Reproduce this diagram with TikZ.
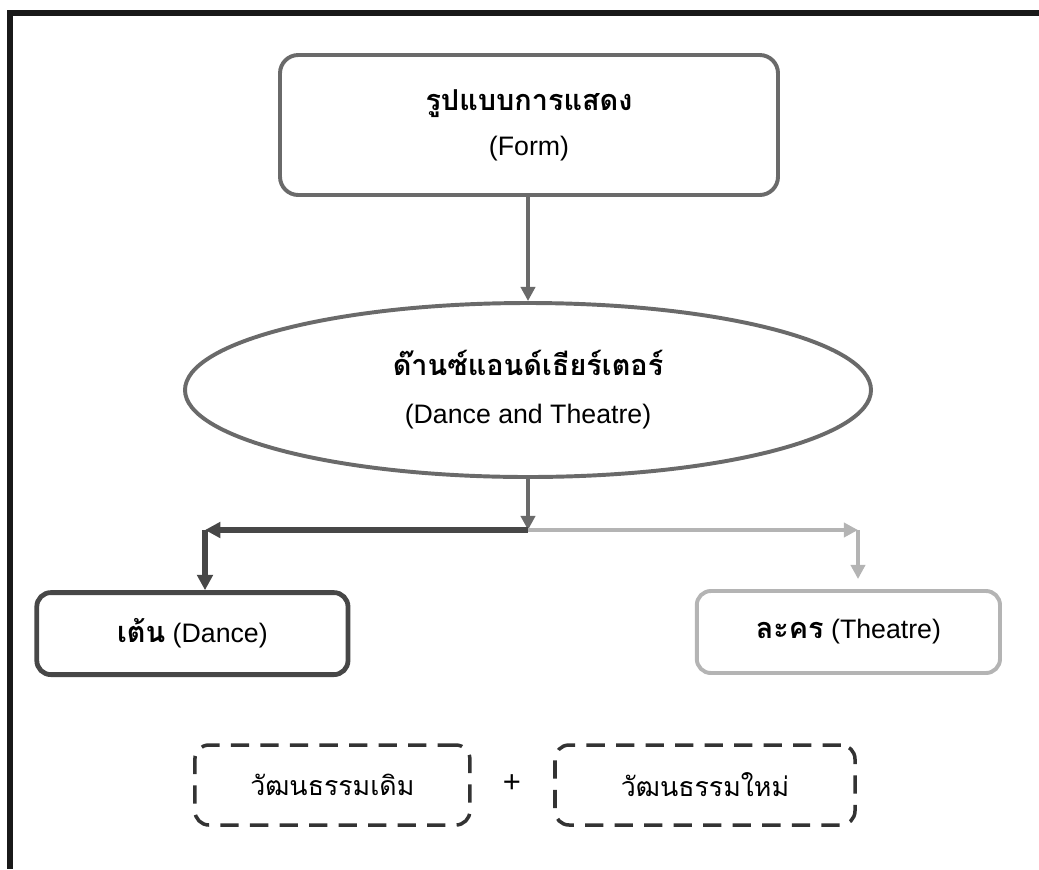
\documentclass[tikz,border=0pt]{standalone}
\usepackage{fontspec}
\setmainfont{Liberation Sans}
\newfontfamily\thaifont[Script=Thai]{Loma}
\usetikzlibrary{positioning, arrows.meta, shapes.geometric}
\definecolor{formgray}{HTML}{6A6A6A}
\definecolor{dancegray}{HTML}{474747}
\definecolor{theatregray}{HTML}{B4B4B4}
\newcommand{\thaibig}{\thaifont\bfseries\fontsize{20.5}{24}\selectfont}

\begin{document}
\begin{tikzpicture}
        [
            formbox/.style = {draw=formgray, line width=2.8pt, rounded corners=13pt, minimum width=12.45cm, minimum height=3.5cm, align=center},
            bigoval/.style = {ellipse, draw=formgray, line width=2.8pt, minimum width=17.15cm, minimum height=4.35cm, inner sep=0pt, align=center},
            leafbox/.style = {line width=2.8pt, rounded corners=10pt, minimum height=2.05cm},
            dashbox/.style = {draw=black!80, line width=2.5pt, dash pattern=on 13pt off 8pt, rounded corners=10pt, minimum height=2cm},
            darkarrow/.style = {-{Triangle[length=11pt, width=11pt]}, dancegray, line width=3.8pt},
            lightarrow/.style = {-{Triangle[length=10pt, width=10pt]}, theatregray, line width=2.8pt},
            every node/.style = {font=\fontsize{19}{23}\selectfont}
        ]%
        \useasboundingbox (0,0) rectangle (25.975,-21.725);
        % frame
        \coordinate (frameR) at (25.975,-0.33);
        \coordinate (frameTL) at (0.25,-0.33);
        \coordinate (frameBL) at (0.25,-21.725);
        \draw[line width=4.5pt, black!90] (frameR) -- (frameTL) -- (frameBL);
        \node[formbox] (form) at (13.225,-3.125) {{\thaibig รูปแบบการแสดง}\\[9pt] (Form)};
        \node[bigoval] (dt) at (13.2,-9.75) {{\thaibig ด๊านซ์แอนด์เธียร์เตอร์}\\[11pt] (Dance and Theatre)};
        \draw[lightarrow, formgray] (dt.north |- form.south) -- (dt.north);
        \node[leafbox, draw=dancegray, line width=3.4pt, minimum width=7.78cm] (dance) at (4.81,-15.84) {{\thaibig เต้น} (Dance)};
        \node[leafbox, draw=theatregray, minimum width=7.58cm] (theatre) at (21.21,-15.8) {{\thaibig ละคร} (Theatre)};
        \coordinate (split) at (13.2,-13.25);
        \coordinate (leftturn) at (5.125,-13.25);
        \coordinate (rightturn) at (21.45,-13.25);
        \draw[lightarrow, formgray] (dt.south) -- (split);
        \draw[darkarrow] (split) -- (leftturn);
        \draw[darkarrow] (leftturn) -- (leftturn |- dance.north);
        \draw[lightarrow] (split) -- (rightturn);
        \draw[lightarrow, shorten >=0.25cm] (rightturn) -- (rightturn |- theatre.north);
        \node[dashbox, minimum width=6.875cm] (oldculture) at (8.31,-19.625) {\thaifont วัฒนธรรมเดิม};
        \node[dashbox, minimum width=7.5cm] (newculture) at (17.625,-19.625) {\thaifont วัฒนธรรมใหม่};
        \node[font=\fontsize{22}{26}\selectfont] (plus) at (12.8,-19.6) {+};
\end{tikzpicture}
\end{document}
